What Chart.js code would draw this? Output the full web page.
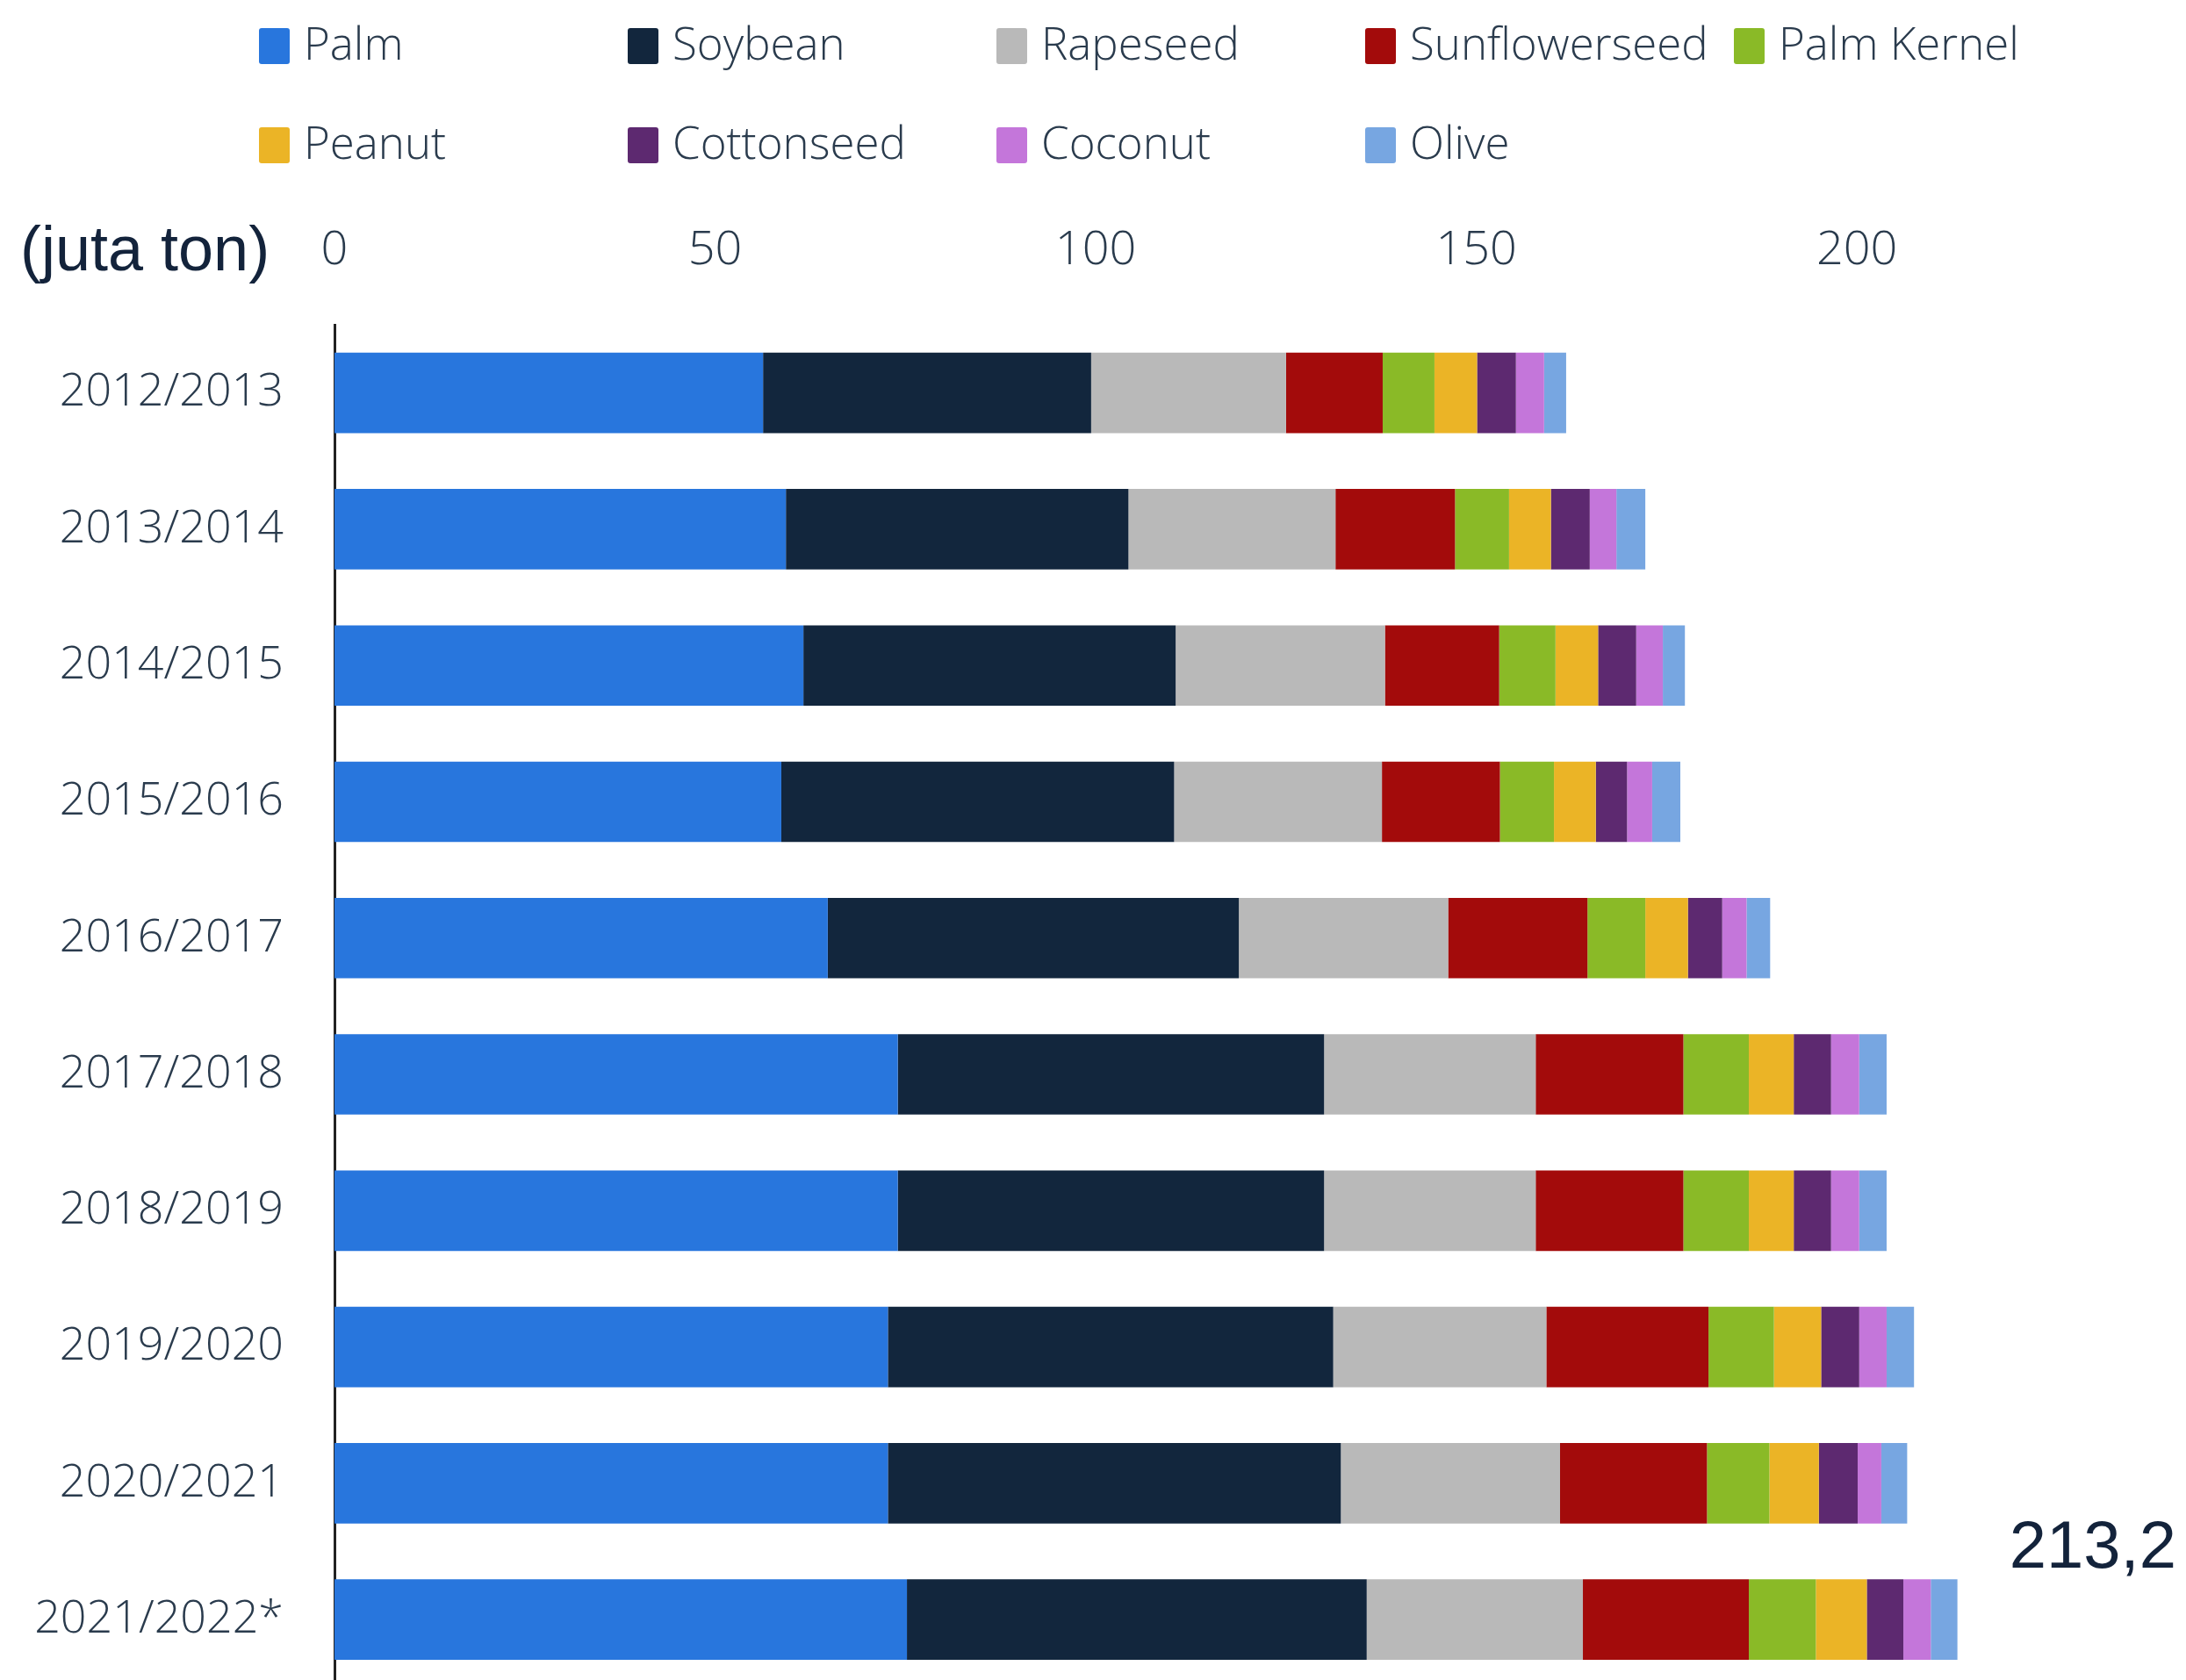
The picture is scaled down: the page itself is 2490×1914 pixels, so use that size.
<!DOCTYPE html>
<html>
<head>
<meta charset="utf-8">
<script src="https://cdn.jsdelivr.net/npm/chart.js@4.4.1/dist/chart.umd.min.js"></script>
<style>
  html, body { margin: 0; padding: 0; background: #fff; overflow: hidden; }
  body { width: 2490px; height: 1914px; position: relative; }
  #chart { position: absolute; left: 0; top: 0; }
  .legend { position: absolute; left: 0; top: 0; font-family: "Open Sans", sans-serif; font-weight: 350; font-size: 51px; color: #2a3b4d; }
  .legend .item { position: absolute; white-space: nowrap; }
  .legend .box { position: absolute; width: 35px; height: 41px; border-radius: 3px; }
  .legend .txt { position: absolute; left: 51px; line-height: normal; }
  .unit { position: absolute; left: 23px; top: 242px; font-family: "Liberation Sans", Arial, sans-serif; font-size: 72px; color: #13233b; }
  .total { position: absolute; right: 11px; top: 1716px; font-family: "Liberation Sans", Arial, sans-serif; font-size: 76px; color: #13233b; }
</style>
</head>
<body>
<!-- canvas runs past the bottom edge: the y axis reserves room under the last label -->
<canvas id="chart" width="2490" height="2012"></canvas>
<div class="legend" id="legend"></div>
<div class="unit">(juta ton)</div>
<div class="total" id="total"></div>
<script>
  const years = ["2012/2013", "2013/2014", "2014/2015", "2015/2016", "2016/2017",
    "2017/2018", "2018/2019", "2019/2020", "2020/2021", "2021/2022*"];

  const palm = [56.3, 59.3, 61.6, 58.7, 64.8, 74.0, 74.0, 72.7, 72.7, 75.2];
  const soybean = [43.1, 45.0, 48.9, 51.6, 54.0, 56.0, 56.0, 58.5, 59.5, 60.4];
  const rapeseed = [25.6, 27.2, 27.5, 27.3, 27.5, 27.8, 27.8, 28.0, 28.8, 28.4];
  const sunflowerseed = [12.7, 15.7, 15.0, 15.5, 18.3, 19.4, 19.4, 21.3, 19.3, 21.8];
  const palmKernel = [6.8, 7.1, 7.4, 7.1, 7.6, 8.6, 8.6, 8.6, 8.2, 8.8];
  const peanut = [5.6, 5.5, 5.6, 5.5, 5.6, 5.9, 5.9, 6.2, 6.5, 6.7];
  const cottonseed = [5.1, 5.1, 5.0, 4.1, 4.5, 4.9, 4.9, 5.0, 5.1, 4.8];
  const coconut = [3.7, 3.5, 3.5, 3.3, 3.2, 3.7, 3.7, 3.6, 3.1, 3.6];
  const olive = [2.9, 3.8, 2.9, 3.7, 3.1, 3.6, 3.6, 3.6, 3.4, 3.5];

  const seriesNames = ["Palm", "Soybean", "Rapeseed", "Sunflowerseed", "Palm Kernel",
    "Peanut", "Cottonseed", "Coconut", "Olive"];
  const seriesValues = [palm, soybean, rapeseed, sunflowerseed, palmKernel,
    peanut, cottonseed, coconut, olive];
  const seriesColors = ["#2876dd", "#12263d", "#b9b9b9", "#a30b0b", "#8aba27",
    "#ebb426", "#5d2970", "#c476da", "#77a6e1"];

  const xTicks = [0, 50, 100, 150, 200];

  const datasets = seriesNames.map((name, i) => ({
    label: name,
    data: seriesValues[i],
    backgroundColor: seriesColors[i],
    borderWidth: 0,
    categoryPercentage: 1,
    barPercentage: 0.59,
  }));

  // legend laid out in a fixed grid, 5 columns
  const legend = document.getElementById("legend");
  seriesNames.forEach((name, i) => {
    const col = i % 5, row = Math.floor(i / 5);
    const item = document.createElement("div");
    item.className = "item";
    item.style.left = (295 + col * 420) + "px";
    item.style.top = (row * 113) + "px";
    item.innerHTML = `<div class="box" style="top:32px;background:${seriesColors[i]}"></div>` +
      `<div class="txt" style="top:13px">${name}</div>`;
    legend.appendChild(item);
  });

  const lastTotal = seriesValues.reduce((s, arr) => s + arr[arr.length - 1], 0);
  document.getElementById("total").textContent = lastTotal.toFixed(1).replace(".", ",");

  const labelFont = { family: "'Open Sans'", weight: 300 };

  new Chart(document.getElementById("chart"), {
    type: "bar",
    data: { labels: years, datasets: datasets },
    options: {
      indexAxis: "y",
      responsive: false,
      animation: false,
      devicePixelRatio: 1,
      layout: { padding: { left: 0, right: 28, top: 0, bottom: 0 } },
      plugins: {
        legend: { display: false },
        tooltip: { enabled: false },
      },
      scales: {
        x: {
          position: "top",
          stacked: true,
          min: 0,
          max: 240,
          afterFit: (s) => { s.height = 370; },
          afterBuildTicks: (s) => { s.ticks = xTicks.map((v) => ({ value: v })); },
          grid: { display: false, drawTicks: false },
          border: { display: false },
          ticks: {
            padding: 52,
            color: "#2a3b4d",
            font: { ...labelFont, size: 54 },
          },
        },
        y: {
          stacked: true,
          afterFit: (s) => { s.width = 381; },
          grid: { display: false, drawTicks: false },
          border: { display: true, color: "#222", width: 3 },
          ticks: {
            padding: 58,
            color: "#2a3b4d",
            font: { ...labelFont, size: 52 },
          },
        },
      },
    },
  });
</script>
</body>
</html>
